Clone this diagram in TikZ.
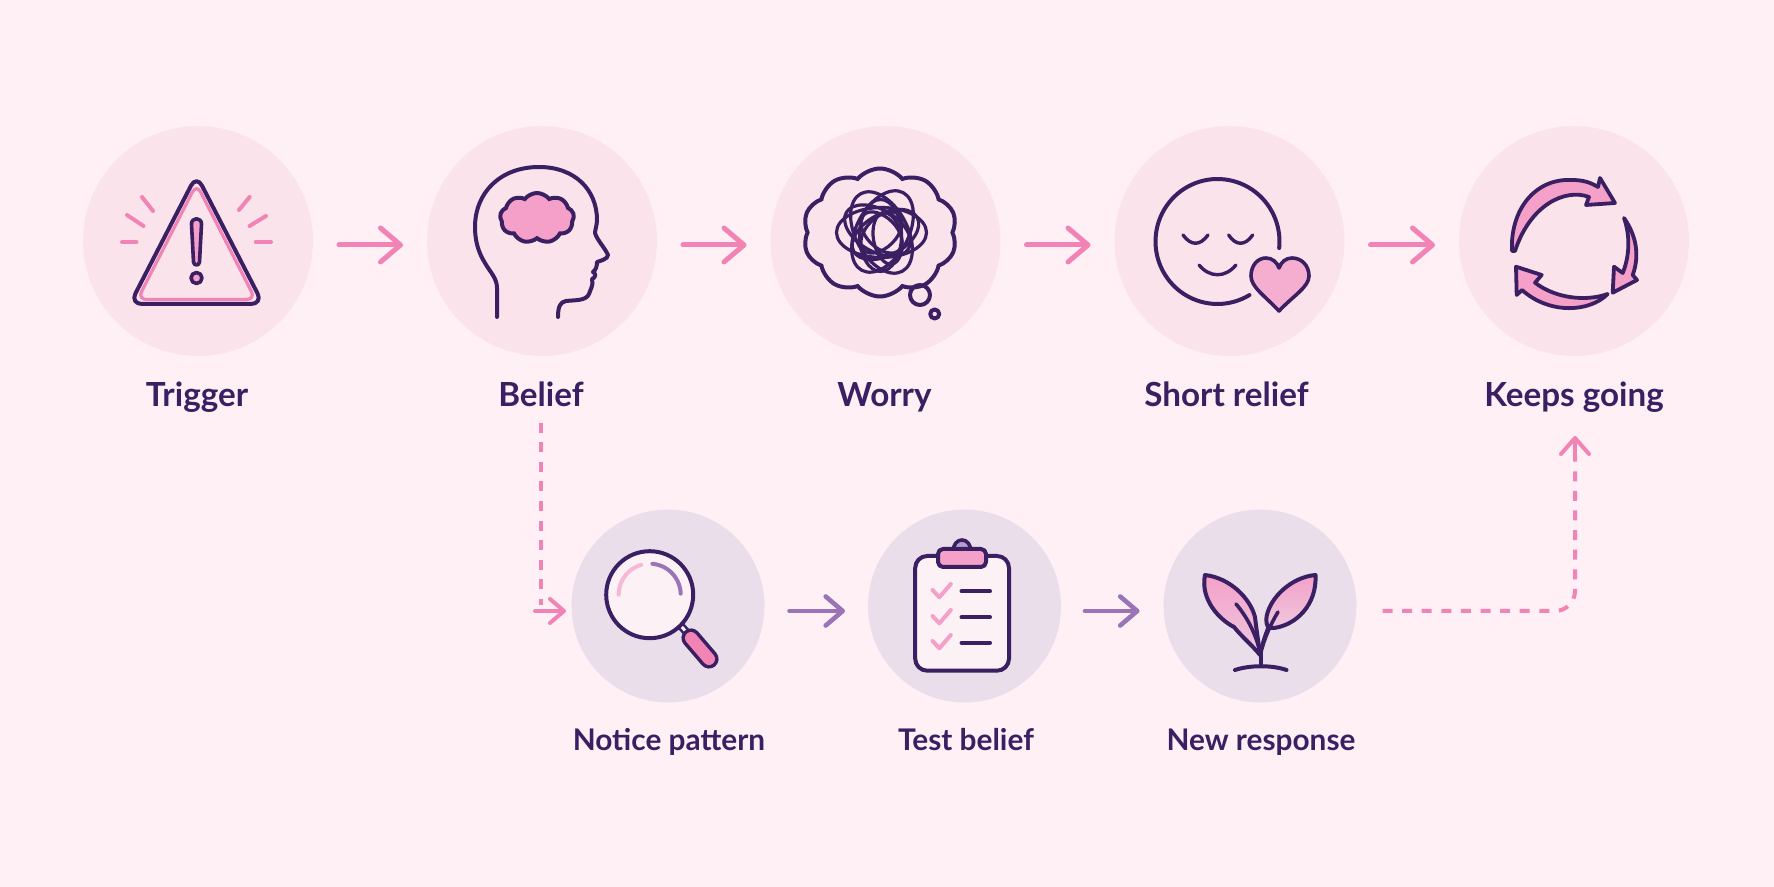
\documentclass[tikz,border=0pt]{standalone}
\usepackage{fontspec}
\setmainfont{Lato}
\usetikzlibrary{arrows.meta,calc,shapes.symbols}
\definecolor{bgc}{HTML}{FEF0F5}
\definecolor{topc}{HTML}{FBE3EC}
\definecolor{lowc}{HTML}{EBDEEB}
\definecolor{dark}{HTML}{3B1F63}
\definecolor{pinkl}{HTML}{F284B5}
\definecolor{pinkf}{HTML}{F4A0C8}
\definecolor{purp}{HTML}{9B74B8}
\definecolor{pale}{HTML}{FCF2F6}
\tikzset{
  topdisc/.style={circle,fill=topc,inner sep=0,outer sep=0,minimum size=115pt},
  lowdisc/.style={circle,fill=lowc,inner sep=0,outer sep=0,minimum size=96.5pt},
  lab/.style={font=\fontsize{16.6}{20}\selectfont\bfseries,text=dark,inner sep=0,anchor=base},
  labl/.style={font=\fontsize{14.9}{18}\selectfont\bfseries,text=dark,inner sep=0,anchor=base},
  flow/.style={draw=pinkl,line width=2.5pt,line cap=round,-{Straight Barb[length=10pt,width=17pt,line cap=round,round]}},
  flowp/.style={draw=purp,line width=2.3pt,line cap=round,-{Straight Barb[length=8.5pt,width=14.5pt,line cap=round,round]}},
  flows/.style={draw=pinkl,line width=2pt,line cap=round,-{Straight Barb[length=7pt,width=12pt,line cap=round,round]}},
  dashl/.style={draw=pinkl,line width=2pt,dash pattern=on 5pt off 4.8pt,rounded corners=10pt},
  ic/.style={draw=dark,line width=2pt,line join=round,line cap=round},
  icp/.style={draw=pinkl,line width=2pt,line cap=round,line join=round},
  puff/.style={cloud,cloud ignores aspect,draw=dark,line width=2pt,inner sep=0,outer sep=0},
}
\begin{document}
\begin{tikzpicture}[x=0.5pt,y=-0.5pt]
\useasboundingbox (0,0) rectangle (1774,887);
\fill[bgc] (0,0) rectangle (1774,887);
% discs
\node[topdisc] (trigger) at (198,241) {};
\node[topdisc] (belief) at (542,241) {};
\node[topdisc] (worry) at (885.5,241) {};
\node[topdisc] (relief) at (1229.5,241) {};
\node[topdisc] (keeps) at (1574,241) {};
\node[lowdisc] (notice) at (668,606) {};
\node[lowdisc] (test) at (964.5,606) {};
\node[lowdisc] (newr) at (1260,606) {};
% labels
\node[lab] (ltrigger) at (197,407) {Trigger};
\node[lab] (lbelief) at (541,407) {Belief};
\node[lab] (lworry) at (884.5,407) {Worry};
\node[lab] (lrelief) at (1226.5,407) {Short relief};
\node[lab] (lkeeps) at (1574,407) {Keeps going};
\node[labl] (lnotice) at (669,750) {Notice pattern};
\node[labl] (ltest) at (966,750) {Test belief};
\node[labl] (lnew) at (1261,750) {New response};
% connectors
\draw[flow] ($(trigger.east)+(26,4)$) -- ($(belief.west)+(-24,4)$);
\draw[flow] ($(belief.east)+(26,4)$) -- ($(worry.west)+(-24,4)$);
\draw[flow] ($(worry.east)+(26,4)$) -- ($(relief.west)+(-24,4)$);
\draw[flow] ($(relief.east)+(26,4)$) -- ($(keeps.west)+(-24,4)$);
\draw[flowp] ($(notice.east)+(25,5)$) -- ($(test.west)+(-23,5)$);
\draw[flowp] ($(test.east)+(24,5)$) -- ($(newr.west)+(-24,5)$);
\coordinate (jn) at (535,611);
\draw[dashl] ($(lbelief.south)+(0,15)$) -- (541,605);
\draw[flows] (jn) -- ($(notice.west)+(-5.5,5)$);
\coordinate (cr) at (1575,611);
\coordinate (up) at (1575,458);
\draw[dashl] ($(newr.east)+(26,5)$) -- (cr) -- (up);
\draw[flow,line width=2pt,-{Straight Barb[length=8pt,width=14pt,line cap=round,round]}] (up) -- (1575,436);
% trigger icon
\draw[ic,rounded corners=6pt] (196.5,175) -- (263,304) -- (130,304) -- cycle;
\draw[icp,line width=1.6pt,rounded corners=4.5pt] (196.5,184) -- (255.5,299.5) -- (137.5,299.5) -- cycle;
\draw[ic,fill=pinkf,line width=1.8pt] (191.5,224) .. controls (191.5,217) and (201.5,217) .. (201.5,224) -- (199.5,262) .. controls (199,266) and (194,266) .. (193.5,262) -- cycle;
\draw[ic,fill=pinkf,line width=1.8pt] (196.5,278) circle[radius=5.5];
\foreach \a/\b/\c/\d in {142/197/153/211,127/215/143.5/226,122/242/136.5/242,249.6/197/239/210,266/216/249.6/226,255.7/242/271/242}
  \draw[icp] (\a,\b) -- (\c,\d);
% belief icon
\draw[ic] (497,317) -- (497,288) .. controls (497,278) and (490,272) .. (485,263) .. controls (478,252) and (475,240) .. (475,227) .. controls (475,193) and (500,167) .. (539,167) .. controls (575,167) and (597,190) .. (597,220) .. controls (597,225) and (595,230) .. (595,233) .. controls (597,240) and (605,248) .. (608,255) .. controls (608,259) and (600,261) .. (597,262) .. controls (597,266) and (596,270) .. (593,272) .. controls (597,274) and (595,278) .. (592,279) .. controls (594,285) and (590,290) .. (589,294) .. controls (586,301) and (575,300) .. (566,301) .. controls (560,302) and (558,307) .. (558,317);
\node[puff,fill=pinkf,cloud puffs=9,cloud puff arc=105,minimum width=37pt,minimum height=25pt] (brain) at (537,218) {};
% worry icon
\node[puff,cloud puffs=10,cloud puff arc=100,minimum width=77pt,minimum height=64pt] (thought) at (880,232.5) {};
\foreach \r/\dx/\dy/\rx/\ry in {0/0/0/45/25,62/1/-1/44/26,118/0/0/44/26,28/4/2/36/21,90/-1/3/36/21,150/-4/-2/36/21,45/0/0/25/15,135/0/0/25/15,100/6/6/26/14}{
  \draw[ic,line width=1.6pt] (881.5+\dx,232.5+\dy) ellipse[x radius=\rx,y radius=\ry,rotate=\r];
}
\draw[ic] (920,295) circle[radius=10];
\draw[ic] (934.7,314) circle[radius=4.5];
% relief icon
\draw[ic] plot[domain=6:-301,samples=80,smooth] ({1217.5+62*cos(\x)},{241.5+62.5*sin(\x)});
\draw[ic,line width=1.7pt] (1183,235) .. controls (1191,246) and (1200,246) .. (1208,235);
\draw[ic,line width=1.7pt] (1228.6,235) .. controls (1236,246) and (1245,246) .. (1252.7,235);
\draw[ic,line width=1.7pt] (1199,265) .. controls (1210,278) and (1225,278) .. (1236,265);
\draw[ic,fill=pinkf!85,line width=1.8pt] (1279,311) .. controls (1265,296) and (1251,287) .. (1251,276) .. controls (1251,265) and (1258,258) .. (1266,258) .. controls (1272,258) and (1277,262) .. (1279,268) .. controls (1281,262) and (1286,258) .. (1292,258) .. controls (1301,258) and (1309,265) .. (1309,276) .. controls (1309,287) and (1293,296) .. (1279,311) -- cycle;
% keeps icon
\draw[ic,fill=pinkf,line width=1.9pt] (1512,251) .. controls (1510,210) and (1535,178) .. (1572,180) .. controls (1582,180) and (1590,182) .. (1598,187) -- (1600,178) -- (1615,203) -- (1586,205) -- (1589,197) .. controls (1565,188) and (1530,205) .. (1515,251) -- cycle;
\draw[ic,fill=pinkf,line width=1.9pt] (1624,218) .. controls (1636,235) and (1640,255) .. (1632.7,275) -- (1637,280) -- (1612.7,292.7) -- (1614,266.7) -- (1622.7,273) .. controls (1630,255) and (1630,235) .. (1624,218) -- cycle;
\draw[ic,fill=pinkf,line width=1.9pt] (1607.7,294) .. controls (1590,312) and (1550,315) .. (1522,290) -- (1516.7,295) -- (1516,266.7) -- (1541.7,275) -- (1535,282.7) .. controls (1555,298) and (1585,302) .. (1607.7,294) -- cycle;
% notice icon
\draw[ic,line width=4pt] (680,625) -- (690,636);
\draw[draw=pale,line width=1.5pt] (680,625) -- (690,636);
\draw[ic,fill=pale] (649.7,594.7) circle[radius=43.5];
\draw[draw=pinkf!75,line width=2pt,line cap=round] plot[domain=180:254,samples=20,smooth] ({649.7+31*cos(\x)},{594.7+31*sin(\x)});
\draw[draw=purp,line width=2pt,line cap=round] plot[domain=275:358,samples=20,smooth] ({649.7+31*cos(\x)},{594.7+31*sin(\x)});
\draw[ic,line width=9.6pt] (691,638) -- (709,659);
\draw[draw=pinkl,line width=6pt,line cap=round] (691,638) -- (709,659);
% test icon
\draw[ic,fill=pale,rounded corners=6pt] (915.2,556) rectangle (1009,670.7);
\draw[ic,fill=purp!70,line width=1.8pt] (953,552) .. controls (953,536) and (971,536) .. (971,552) -- cycle;
\draw[ic,fill=pinkf,rounded corners=2.5pt] (938,549) rectangle (986,567);
\foreach \o in {0,26,51}{
  \draw[icp,draw=pinkf] (932.5,590+\o) -- (939.4,597.3+\o) -- (950.8,584+\o);
}
\foreach \o in {591.3,617.3,642.7}{
  \draw[ic] (961.5,\o) -- (990,\o);
}
% new response icon
\draw[ic,top color=pinkf,middle color=pinkf,bottom color=pinkf!35!lowc] (1205,575) .. controls (1230,578) and (1250,598) .. (1255,617) .. controls (1257,635) and (1259,645) .. (1260,655) .. controls (1252,645) and (1242,637) .. (1234,627) .. controls (1220,620) and (1200,600) .. (1205,575) -- cycle;
\draw[ic,top color=pinkf,middle color=pinkf,bottom color=pinkf!35!lowc] (1315.5,575) .. controls (1292,577) and (1270,597) .. (1266.5,617) .. controls (1266,628) and (1268,628) .. (1274,628) .. controls (1296,625) and (1317,605) .. (1315.5,575) -- cycle;
\draw[ic,line width=1.8pt] (1236,604) .. controls (1248,618) and (1256,635) .. (1260,652);
\draw[ic,line width=1.8pt] (1278,612) .. controls (1270,625) and (1264,640) .. (1261,652);
\draw[ic,line width=1.8pt] (1268,628) .. controls (1265,635) and (1262,645) .. (1260.5,652);
\draw[ic] (1260.5,650) -- (1260.5,666);
\draw[ic] (1235,670) .. controls (1250,665) and (1272,665) .. (1286.5,670);
\end{tikzpicture}
\end{document}
